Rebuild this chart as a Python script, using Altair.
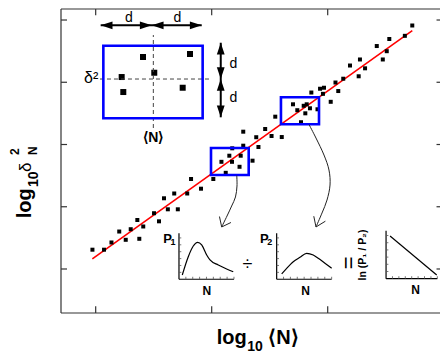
import altair as alt
import pandas as pd

# ---------------- main axes (log10 <N> vs log10 delta^2_N) ----------------
X_TICKS = [1, 2, 3, 4]
Y_TICKS = [1, 2, 3, 4, 5]
X_MIN, X_MAX = 0.701, 3.968
Y_MIN, Y_MAX = 0.293, 5.177

scatter_x = [0.972, 1.072, 1.136, 1.203, 1.259, 1.302, 1.359, 1.376, 1.410, 1.503,
             1.546, 1.589, 1.622, 1.677, 1.708, 1.789, 1.822, 1.908, 2.014, 2.084,
             2.121, 2.152, 2.175, 2.177, 2.240, 2.250, 2.272, 2.272, 2.352, 2.384,
             2.403, 2.461, 2.516, 2.548, 2.604, 2.701, 2.738, 2.793, 2.807, 2.819,
             2.847, 2.770, 2.912, 2.859, 2.934, 2.968, 2.959, 3.026, 3.067, 3.091,
             3.134, 3.192, 3.267, 3.278, 3.322, 3.423, 3.475, 3.509, 3.531, 3.665, 3.729]
scatter_y = [1.310, 1.310, 1.426, 1.602, 1.469, 1.639, 1.787, 1.485, 1.683, 1.896,
             1.766, 2.136, 1.959, 2.213, 1.959, 2.213, 2.446, 2.290, 2.446, 2.722,
             2.545, 2.820, 2.722, 2.939, 2.642, 2.820, 2.981, 3.206, 2.740, 3.117,
             2.960, 3.249, 3.137, 3.447, 3.120, 3.646, 3.551, 3.622, 3.501, 3.646,
             3.582, 3.358, 3.566, 3.835, 3.896, 3.912, 3.814, 3.686, 3.996, 3.859,
             4.057, 4.269, 4.096, 4.366, 4.224, 4.582, 4.366, 4.499, 4.695, 4.746, 4.912]

fit_x = [0.971, 3.729]
fit_y = [1.161, 4.828]

# schematic window (top-left)
window_sq_x = [1.408, 1.813, 1.224, 1.505, 1.238, 1.750]
window_sq_y = [4.406, 4.454, 4.084, 4.153, 3.843, 3.912]

# blue boxes
box_x0 = [1.066, 1.994, 2.597]
box_x1 = [1.922, 2.319, 2.925]
box_y0 = [3.421, 2.510, 3.325]
box_y1 = [4.587, 2.944, 3.758]

# dashed cross-hair in the window
dash_v = [1.497, 3.265, 1.497, 4.759]
dash_h = [1.037, 4.052, 1.985, 4.052]

# d-arrows
arrow_h_y = 4.915
arrow_h_x = [1.043, 1.483, 1.914]
arrow_v_x = 2.078
arrow_v_y = [4.635, 4.052, 3.437]

# curved arrows from the boxes to the inset distributions
curve1_x = [2.216, 2.218, 2.205, 2.172, 2.132, 2.086]
curve1_y = [2.502, 2.333, 2.157, 2.012, 1.851, 1.675]
curve1_head = [(2.086, 1.675, 2.067, 1.843), (2.086, 1.675, 2.166, 1.747)]
curve2_x = [2.839, 2.899, 2.968, 3.011, 3.020, 2.994, 2.951, 2.899]
curve2_y = [3.321, 3.104, 2.831, 2.590, 2.349, 2.108, 1.900, 1.675]
curve2_head = [(2.899, 1.675, 2.880, 1.848), (2.899, 1.675, 2.980, 1.768)]

# inset distributions (local units 0..1)
p1_u = [0.06, 0.169, 0.26, 0.34, 0.413, 0.504, 0.564, 0.715, 0.867, 0.987]
p1_v = [0.093, 0.491, 0.724, 0.804, 0.746, 0.528, 0.42, 0.311, 0.224, 0.165]
p2_u = [0.091, 0.182, 0.302, 0.424, 0.545, 0.665, 0.756, 0.878, 1.0]
p2_v = [0.115, 0.239, 0.383, 0.478, 0.565, 0.528, 0.457, 0.348, 0.239]
ln_u = [0.078, 0.988]
ln_v = [0.89, 0.077]
inset_boxes = {"P1": (1.718, 2.192, 0.835, 1.573),
               "P2": (2.560, 3.034, 0.835, 1.573),
               "LN": (3.503, 3.945, 0.844, 1.615)}
inset_u_ticks = [0.125, 0.25, 0.375, 0.5, 0.625, 0.75, 0.875, 1.0]
inset_v_ticks = [0.15, 0.3, 0.45, 0.6, 0.75, 0.9]

FONT = "Liberation Sans"
xs = alt.Scale(domain=[X_MIN, X_MAX], nice=False, zero=False)
ys = alt.Scale(domain=[Y_MIN, Y_MAX], nice=False, zero=False)


def X(f="x"):
    return alt.X(f + ":Q", scale=xs, axis=None)


def Y(f="y"):
    return alt.Y(f + ":Q", scale=ys, axis=None)


def seg_layer(rows, **kw):
    df = pd.DataFrame(rows, columns=["x", "y", "x2", "y2"])
    return alt.Chart(df).mark_rule(**kw).encode(x=X(), y=Y(), x2="x2:Q", y2="y2:Q")


def text_layer(rows, **kw):
    df = pd.DataFrame(rows, columns=["t", "x", "y"])
    return alt.Chart(df).mark_text(font=FONT, color="black", **kw).encode(
        x=X(), y=Y(), text="t:N")


def to_main(name, u, v):
    x0, x1, y0, y1 = inset_boxes[name]
    return [x0 + a * (x1 - x0) for a in u], [y0 + b * (y1 - y0) for b in v]


layers = []

# frame (left, top, bottom) and inward ticks
frame = [(X_MIN, Y_MIN, X_MIN, Y_MAX), (X_MIN, Y_MAX, X_MAX, Y_MAX), (X_MIN, Y_MIN, X_MAX, Y_MIN)]
ticks = []
for t in X_TICKS:
    if t <= X_MAX:
        ticks.append((t, Y_MIN, t, Y_MIN + 0.11))
        ticks.append((t, Y_MAX, t, Y_MAX - 0.10))
for t in Y_TICKS:
    ticks.append((X_MIN, t, X_MIN + 0.052, t))
    ticks.append((X_MAX - 0.03, t, X_MAX, t))
layers.append(seg_layer(frame + ticks, color="#333333", strokeWidth=1.2))

# red fit line
layers.append(alt.Chart(pd.DataFrame({"x": fit_x, "y": fit_y})).mark_line(
    color="#ff0000", strokeWidth=1.6).encode(x=X(), y=Y()))

# scatter
layers.append(alt.Chart(pd.DataFrame({"x": scatter_x, "y": scatter_y})).mark_square(
    size=16, color="black", opacity=1).encode(x=X(), y=Y()))
layers.append(alt.Chart(pd.DataFrame({"x": window_sq_x, "y": window_sq_y})).mark_square(
    size=36, color="black", opacity=1).encode(x=X(), y=Y()))

# dashed cross-hair
layers.append(seg_layer([tuple(dash_v), tuple(dash_h)], color="#444444",
                        strokeWidth=1, strokeDash=[4, 3]))

# blue boxes
boxes = pd.DataFrame({"x": box_x0, "x2": box_x1, "y": box_y0, "y2": box_y1})
layers.append(alt.Chart(boxes).mark_rect(fillOpacity=0, stroke="#0000ff", strokeWidth=2.6).encode(
    x=X(), x2="x2:Q", y=Y(), y2="y2:Q"))

# d arrows: shafts and heads
layers.append(seg_layer([(arrow_h_x[0], arrow_h_y, arrow_h_x[2], arrow_h_y),
                         (arrow_v_x, arrow_v_y[0], arrow_v_x, arrow_v_y[2])],
                        color="black", strokeWidth=2))
heads = pd.DataFrame({
    "x": [arrow_h_x[0], arrow_h_x[1], arrow_h_x[1], arrow_h_x[2],
          arrow_v_x, arrow_v_x, arrow_v_x, arrow_v_x],
    "y": [arrow_h_y] * 4 + [arrow_v_y[0], arrow_v_y[1], arrow_v_y[1], arrow_v_y[2]],
    "a": [180, 0, 180, 0, 270, 90, 270, 90]})
layers.append(alt.Chart(heads).mark_point(
    shape="M0,0L-1,-0.33L-1,0.33Z", filled=True, size=560, color="black", opacity=1,
    strokeWidth=0).encode(x=X(), y=Y(), angle=alt.Angle("a:Q", scale=None)))

# curved arrows
cdf = pd.DataFrame({"x": curve1_x + curve2_x, "y": curve1_y + curve2_y,
                    "g": ["c1"] * len(curve1_x) + ["c2"] * len(curve2_x),
                    "i": list(range(len(curve1_x))) + list(range(len(curve2_x)))})
layers.append(alt.Chart(cdf).mark_line(color="#222222", strokeWidth=1, interpolate="cardinal").encode(
    x=X(), y=Y(), detail="g:N", order="i:Q"))
layers.append(seg_layer(curve1_head + curve2_head, color="#222222", strokeWidth=1))

# inset mini plots: axes, ticks, curves
inset_axes = []
inset_ticks = []
for name, (x0, x1, y0, y1) in inset_boxes.items():
    inset_axes.append((x0, y0, x0, y1))
    inset_axes.append((x0, y0, x1, y0))
    for u in inset_u_ticks:
        xx = x0 + u * (x1 - x0)
        inset_ticks.append((xx, y0, xx, y0 + 0.04))
    for v in inset_v_ticks:
        yy = y0 + v * (y1 - y0)
        inset_ticks.append((x0, yy, x0 + 0.02, yy))
layers.append(seg_layer(inset_axes, color="black", strokeWidth=1.2))
layers.append(seg_layer(inset_ticks, color="#555555", strokeWidth=0.8))

c_rows = []
for name, u, v in [("P1", p1_u, p1_v), ("P2", p2_u, p2_v), ("LN", ln_u, ln_v)]:
    xx, yy = to_main(name, u, v)
    for i, (a, b) in enumerate(zip(xx, yy)):
        c_rows.append({"x": a, "y": b, "g": name, "i": i})
layers.append(alt.Chart(pd.DataFrame(c_rows)).mark_line(
    color="black", strokeWidth=1.2, interpolate="monotone").encode(
    x=X(), y=Y(), detail="g:N", order="i:Q"))

# ---------------- texts ----------------
# axis titles (built from pieces for sub/superscripts)
layers.append(text_layer([("log", 2.043, -0.205), ("⟨N⟩", 2.488, -0.205)],
                         fontSize=20, fontWeight="bold", align="left", baseline="alphabetic"))
layers.append(text_layer([("10", 2.307, -0.325)],
                         fontSize=14, fontWeight="bold", align="left", baseline="alphabetic"))
layers.append(text_layer([("log", 0.443, 1.814)], angle=270,
                         fontSize=20, fontWeight="bold", align="left", baseline="alphabetic"))
layers.append(text_layer([("10", 0.500, 2.317)], angle=270,
                         fontSize=14, fontWeight="bold", align="left", baseline="alphabetic"))
layers.append(text_layer([("δ", 0.440, 2.560)], angle=270,
                         fontSize=17, align="left", baseline="alphabetic"))
layers.append(text_layer([("2", 0.342, 2.831), ("N", 0.492, 2.831)], angle=270,
                         fontSize=12, fontWeight="bold", align="left", baseline="alphabetic"))

# window labels
layers.append(text_layer([("d", 1.287, 4.973), ("d", 1.705, 4.973),
                          ("d", 2.188, 4.224), ("d", 2.188, 3.688)],
                         fontSize=14, align="center", baseline="alphabetic"))
layers.append(text_layer([("δ²", 1.022, 3.993)], fontSize=16, align="right", baseline="alphabetic"))
layers.append(text_layer([("⟨N⟩", 1.497, 3.045)], fontSize=14, fontWeight="bold",
                         align="center", baseline="alphabetic"))

# inset labels
layers.append(text_layer([("P", 1.583, 1.413), ("P", 2.416, 1.413)],
                         fontSize=13, fontWeight="bold", align="left", baseline="alphabetic"))
layers.append(text_layer([("1", 1.645, 1.378), ("2", 2.479, 1.378)],
                         fontSize=9, fontWeight="bold", align="left", baseline="alphabetic"))
layers.append(text_layer([("N", 1.959, 0.585), ("N", 2.809, 0.585), ("N", 3.757, 0.594)],
                         fontSize=12, fontWeight="bold", align="center", baseline="alphabetic"))
layers.append(text_layer([("÷", 2.309, 1.064)], fontSize=18, align="center", baseline="middle"))
layers.append(text_layer([("=", 3.175, 1.096)], angle=90, fontSize=22,
                         align="center", baseline="middle"))
layers.append(text_layer([("ln (P₁ / P₂)", 3.330, 1.225)], angle=270, fontSize=10.5,
                         fontWeight="bold", align="center", baseline="alphabetic"))

chart = alt.layer(*layers).properties(
    width=379, height=304,
    autosize=alt.AutoSizeParams(type="none"),
    padding={"left": 53, "top": 1, "right": 0, "bottom": 42},
).configure_view(stroke=None)

chart.save("out.html", embed_options={"renderer": "svg", "actions": False})
